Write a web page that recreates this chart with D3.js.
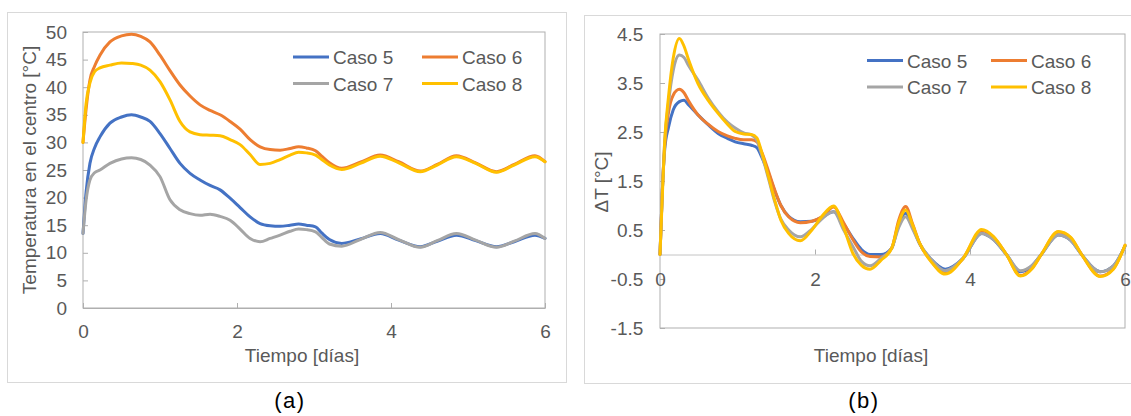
<!DOCTYPE html>
<html>
<head>
<meta charset="utf-8">
<script src="https://cdn.jsdelivr.net/npm/d3@7"></script>
<style>
html,body{margin:0;padding:0;background:#fff;}
svg{display:block;font-family:"Liberation Sans",Arial,sans-serif;}
</style>
</head>
<body>
<svg id="chart" width="1131" height="416"></svg>
<script>
// ---------- DATA ----------
const seriesNames = ["Caso 5", "Caso 6", "Caso 7", "Caso 8"];
const seriesColors = ["#4472C4", "#ED7D31", "#A5A5A5", "#FFC000"];

// (a) Temperatura en el centro [°C]
const tiempoA = [0,0.04,0.09,0.15,0.22,0.35,0.5,0.63,0.75,0.87,1.0,1.13,1.26,1.39,1.52,1.65,1.78,1.91,2.04,2.17,2.3,2.43,2.56,2.69,2.8,2.9,3.02,3.1,3.2,3.36,3.6,3.86,4.1,4.38,4.6,4.85,5.1,5.37,5.6,5.87,6.0];
const caso5A = [13.5,21,26.2,29,31.0,33.5,34.6,35.0,34.6,33.8,31.6,28.9,26.2,24.4,23.2,22.2,21.4,19.9,18.2,16.5,15.3,14.9,14.8,15.0,15.2,15.0,14.7,13.6,12.4,11.7,12.5,13.5,12.3,11.1,12.1,13.2,12.2,11.1,12.0,13.2,12.6];
const caso6A = [30,36,41.3,43.8,45.8,48.2,49.3,49.6,49.2,48.2,45.8,43.0,40.4,38.4,36.8,35.8,35.0,33.8,32.4,30.5,29.2,28.7,28.6,28.9,29.2,29.0,28.5,27.5,26.3,25.3,26.4,27.7,26.5,24.8,26.0,27.6,26.3,24.7,26.0,27.6,26.5];
const caso7A = [13.5,19.5,23.2,24.5,25.0,26.2,27.0,27.2,26.9,25.9,23.8,19.6,17.8,17.1,16.8,17.0,16.6,15.9,14.3,12.6,12.0,12.6,13.2,13.9,14.3,14.2,13.8,12.8,11.6,11.2,12.4,13.7,12.4,11.0,12.2,13.5,12.3,11.0,12.1,13.5,12.6];
const caso8A = [30,37,40.8,42.8,43.5,44.0,44.4,44.3,44.0,43.1,41.0,37.7,33.8,31.9,31.4,31.3,31.2,30.5,29.6,27.8,26.0,26.2,26.9,27.7,28.2,28.1,27.7,26.9,25.9,25.1,26.2,27.5,26.3,24.7,25.9,27.4,26.2,24.6,25.9,27.4,26.5];
const yTicksA = [0,5,10,15,20,25,30,35,40,45,50];
const xTicks = [0,2,4,6];

// (b) ΔT [°C]
const tiempoB = [0,0.03,0.06,0.11,0.17,0.25,0.31,0.37,0.49,0.62,0.75,0.87,0.97,1.08,1.18,1.25,1.31,1.40,1.48,1.56,1.66,1.81,1.96,2.09,2.24,2.37,2.49,2.6,2.71,2.85,2.99,3.08,3.17,3.26,3.35,3.5,3.68,3.91,4.15,4.3,4.47,4.65,4.8,4.92,5.14,5.3,5.44,5.68,5.85,6.0];
const caso5B = [0,1.3,2.13,2.6,2.95,3.12,3.15,3.05,2.85,2.65,2.47,2.37,2.30,2.26,2.23,2.18,2.0,1.65,1.30,1.0,0.78,0.67,0.68,0.76,0.87,0.62,0.33,0.1,0.0,0.0,0.13,0.62,0.84,0.56,0.22,-0.1,-0.30,-0.08,0.43,0.31,0.0,-0.35,-0.23,0.0,0.40,0.29,0.0,-0.35,-0.23,0.17];
const caso6B = [0,1.3,2.2,2.9,3.25,3.37,3.3,3.13,2.85,2.66,2.51,2.42,2.37,2.34,2.34,2.30,2.10,1.7,1.32,1.0,0.77,0.65,0.68,0.77,0.97,0.65,0.3,0.05,-0.04,-0.05,0.13,0.70,0.98,0.62,0.23,-0.14,-0.38,-0.08,0.49,0.36,0.0,-0.43,-0.28,0.0,0.46,0.34,0.0,-0.44,-0.29,0.19];
const caso7B = [0,1.3,2.3,3.1,3.75,4.07,4.02,3.85,3.56,3.2,2.91,2.70,2.58,2.48,2.44,2.33,2.05,1.55,1.08,0.72,0.5,0.36,0.52,0.73,0.87,0.5,0.16,-0.14,-0.23,-0.08,0.13,0.55,0.77,0.52,0.22,-0.1,-0.33,-0.08,0.43,0.31,0.0,-0.33,-0.22,0.0,0.40,0.29,0.0,-0.35,-0.23,0.17];
const caso8B = [0,1.2,2.3,3.22,4.0,4.41,4.25,3.97,3.49,3.15,2.88,2.66,2.51,2.46,2.45,2.38,2.10,1.59,1.11,0.70,0.43,0.28,0.50,0.78,0.99,0.55,0.02,-0.22,-0.30,-0.12,0.13,0.65,0.91,0.60,0.23,-0.15,-0.40,-0.08,0.51,0.37,0.0,-0.44,-0.29,0.0,0.47,0.35,0.0,-0.45,-0.30,0.19];
const yTicksB = [-1.5,-0.5,0.5,1.5,2.5,3.5,4.5];

// ---------- DRAW ----------
const svg = d3.select("#chart");
const TXT = "#595959";
const FS = 19;
const FRAME = "#AFAFAF";

// outer chart borders
svg.append("rect").attr("x",7.5).attr("y",12.5).attr("width",559).attr("height",370)
  .attr("fill","none").attr("stroke","#D9D9D9");
svg.append("rect").attr("x",584.5).attr("y",15.5).attr("width",600).attr("height",368)
  .attr("fill","none").attr("stroke","#D9D9D9");

function drawPanel(cfg){
  const g = svg.append("g");
  const x = cfg.x, y = cfg.y;
  const [x0,x1] = x.range(); const [yb,yt] = y.range();

  // plot frame
  g.append("rect").attr("x",x0).attr("y",yt).attr("width",x1-x0).attr("height",yb-yt)
    .attr("fill","none").attr("stroke",FRAME).attr("stroke-width",1);

  // y axis
  const ya = g.append("g").attr("transform",`translate(${x0},0)`)
    .call(d3.axisLeft(y).tickValues(cfg.yTicks).tickSizeInner(-5).tickSizeOuter(0)
      .tickPadding(cfg.yPad).tickFormat(cfg.yFmt));
  ya.select(".domain").remove();
  ya.selectAll("line").attr("stroke",FRAME);
  ya.selectAll("text").attr("fill",TXT).style("font-size",FS+"px").style("font-family","Liberation Sans, Arial, sans-serif");

  // x axis
  const xa = g.append("g").attr("transform",`translate(0,${y(cfg.xAxisAt)})`)
    .call(d3.axisBottom(x).tickValues(xTicks).tickSizeInner(-5).tickSizeOuter(0)
      .tickPadding(cfg.xPad).tickFormat(d3.format("d")));
  xa.select(".domain").attr("stroke",cfg.xDomainColor);
  xa.selectAll("line").attr("stroke",FRAME);
  xa.selectAll("text").attr("fill",TXT).style("font-size",FS+"px").style("font-family","Liberation Sans, Arial, sans-serif");

  // lines
  const line = d3.line().x(d=>x(d[0])).y(d=>y(d[1])).curve(d3.curveMonotoneX);
  cfg.series.forEach((vals,i)=>{
    const pts = cfg.t.map((t,j)=>[t,vals[j]]);
    g.append("path").datum(pts).attr("d",line).attr("fill","none")
      .attr("stroke",seriesColors[i]).attr("stroke-width",3)
      .attr("stroke-linejoin","round").attr("stroke-linecap","round");
  });

  // legend
  const lg = g.append("g");
  seriesNames.forEach((n,i)=>{
    const col = i%2, row = Math.floor(i/2);
    const lx = cfg.leg.x[col], ly = cfg.leg.y[row];
    lg.append("line").attr("x1",lx).attr("x2",lx+36).attr("y1",ly).attr("y2",ly)
      .attr("stroke",seriesColors[i]).attr("stroke-width",3);
    lg.append("text").attr("x",lx+40).attr("y",ly+7).attr("fill",TXT)
      .style("font-size",FS+"px").text(n);
  });

  // axis titles
  g.append("text").attr("x",cfg.xTitle[0]).attr("y",cfg.xTitle[1]).attr("text-anchor","middle")
    .attr("fill",TXT).style("font-size",FS+"px").text("Tiempo [días]");
  g.append("text").attr("transform",`translate(${cfg.yTitle[0]},${cfg.yTitle[1]}) rotate(-90)`)
    .attr("text-anchor","middle").attr("fill",TXT).style("font-size",FS+"px").text(cfg.yTitleText);

  // panel label
  g.append("text").attr("x",cfg.label[0]).attr("y",407.5).attr("text-anchor","middle")
    .attr("fill","#000").style("font-size","22px").style("letter-spacing","1.5px").text(cfg.labelText);
}

drawPanel({
  x: d3.scaleLinear([0,6],[83,545]),
  y: d3.scaleLinear([0,50],[308,32]),
  yTicks: yTicksA, yFmt: d3.format("d"), yPad: 16, xPad: 16.2, xAxisAt: 0,
  xDomainColor: FRAME,
  t: tiempoA, series: [caso5A, caso6A, caso7A, caso8A],
  leg: {x:[293,422], y:[57,83.5]},
  xTitle: [302,362], yTitle: [36,170], yTitleText: "Temperatura en el centro [°C]",
  label: [290,0], labelText: "(a)"
});

drawPanel({
  x: d3.scaleLinear([0,6],[660,1125]),
  y: d3.scaleLinear([-1.5,4.5],[328,34]),
  yTicks: yTicksB, yFmt: d=>d.toFixed(1), yPad: 16.7, xPad: 17.7, xAxisAt: 0,
  xDomainColor: "#C4C4C4",
  t: tiempoB, series: [caso5B, caso6B, caso7B, caso8B],
  leg: {x:[867,991], y:[60.5,87]},
  xTitle: [871,362], yTitle: [608,182], yTitleText: "ΔT [°C]",
  label: [864,0], labelText: "(b)"
});
</script>
</body>
</html>
